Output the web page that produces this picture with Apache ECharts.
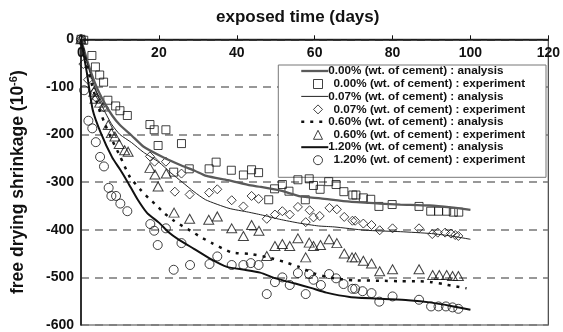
<!DOCTYPE html>
<html>
<head>
<meta charset="utf-8">
<script src="https://cdn.jsdelivr.net/npm/echarts@6/dist/echarts.min.js"></script>
<style>
html,body{margin:0;padding:0;background:#fff;}
#chart{width:563px;height:332px;}
</style>
</head>
<body>
<div id="chart"></div>
<script>
// ---- data (x = exposed time in days, y = free drying shrinkage, 10^-6) ----
var seriesNames = [
  '0.00% (wt. of cement) : analysis',
  '0.00% (wt. of cement) : experiment',
  '0.07% (wt. of cement) : analysis',
  '0.07% (wt. of cement) : experiment',
  '0.60% (wt. of cement) : analysis',
  '0.60% (wt. of cement) : experiment',
  '1.20% (wt. of cement) : analysis',
  '1.20% (wt. of cement) : experiment'
];
var xTicks = [0, 20, 40, 60, 80, 100, 120];
var yTicks = [0, -100, -200, -300, -400, -500, -600];

var ana000 = [[0,0],[2,-55],[4,-100],[6,-133],[8,-160],[10,-180],[13,-202],[16,-225],[20.7,-246],[25.8,-265],[29.2,-276],[32.2,-287],[37.7,-296],[43.6,-307],[46.2,-310],[51.3,-318],[56.4,-330],[61.5,-334],[69,-341],[76.7,-345],[82,-347],[89.5,-349],[95,-353],[100,-358]];
var exp000 = [[0,0],[0.7,-2],[2.8,-34],[3.7,-58],[4.8,-75],[5.8,-90],[6.9,-128],[8.9,-140],[10,-150],[11.9,-160],[17.7,-179],[18.8,-190],[19.8,-223],[21.8,-190],[23.8,-279],[25.8,-219],[27.8,-272],[32.9,-272],[34.7,-258],[38.6,-275],[41.7,-285],[43.8,-274],[45.6,-280],[48.2,-337],[49.7,-314],[51.7,-305],[53.4,-319],[55.7,-295],[57.6,-337],[58.6,-293],[59.7,-307],[61.4,-315],[63.6,-299],[65.5,-305],[67.5,-320],[69.8,-327],[70.6,-327],[72.5,-333],[74.4,-336],[76.5,-351],[79.9,-347],[86.8,-351],[89.8,-361],[91.8,-361],[93.9,-361],[95.6,-363],[97,-363]];

var ana007 = [[0,0],[2,-62],[4,-112],[6,-150],[8,-180],[10,-200],[13,-217],[16,-237],[20,-258],[23,-280],[26,-300],[29,-320],[32,-337],[38,-355],[43,-363],[47,-370],[51,-378],[56,-386],[61,-392],[65,-394],[73,-401],[82,-404],[90,-408],[95,-413],[100,-420]];
var exp007 = [[0,0],[0.6,-52],[1.8,-85],[3.4,-111],[4,-124],[5.8,-143],[17.7,-246],[18.9,-257],[21.8,-257],[24.1,-320],[25.8,-282],[27.9,-326],[32.9,-322],[35,-315],[38.7,-338],[41.7,-351],[43.8,-329],[45.6,-335],[47.7,-377],[49.8,-368],[51.7,-361],[53.6,-368],[55.7,-352],[57.7,-384],[58.7,-359],[59.7,-374],[61.3,-371],[63.8,-354],[65.7,-357],[67.6,-373],[69.7,-381],[70.4,-381],[72.5,-387],[74.6,-390],[76.7,-401],[80,-397],[86.8,-397],[90.2,-409],[91.6,-406],[93.5,-406],[95,-408],[96.1,-411],[96.9,-413]];

var ana060 = [[0,0],[2,-70],[4,-130],[6,-175],[8,-212],[10,-245],[12.6,-290],[15.2,-315],[17.3,-333],[19.4,-349],[21.5,-366],[23.7,-380],[26.2,-393],[28.3,-403],[30.9,-416],[33.4,-427],[38.5,-447],[43.6,-451],[48,-458],[52,-467],[56,-478],[60,-492],[65,-502],[70,-506],[77,-507],[82,-508],[87,-508],[90,-510],[93,-514],[95.5,-518],[99,-523]];
var exp060 = [[0,0],[3.3,-110],[3.6,-125],[4.8,-133],[5.8,-141],[7,-180],[7.8,-197],[8.7,-204],[9.8,-220],[11.2,-233],[12.1,-236],[17.7,-270],[19,-284],[19.8,-309],[21.9,-282],[23.9,-364],[27.9,-377],[32.8,-379],[35,-372],[38.7,-397],[41.7,-413],[43.8,-390],[45.7,-402],[47.7,-455],[49.8,-434],[51.7,-430],[53.6,-434],[55.7,-418],[57.7,-458],[58.6,-427],[59.7,-434],[61.5,-432],[63.7,-420],[65.7,-428],[67.6,-450],[69.6,-458],[70.5,-458],[72.5,-465],[74.6,-471],[76.7,-487],[80,-483],[86.8,-483],[90.3,-495],[92,-495],[93.9,-495],[95.4,-497],[96.9,-497]];

var ana120 = [[0,0],[1.5,-70],[3,-148],[5,-195],[8,-248],[10,-273],[12,-300],[14.5,-336],[17,-365],[20,-385],[22.5,-405],[25,-420],[29,-440],[33,-460],[37.5,-478],[42,-484],[46,-490],[50,-502],[55,-513],[59,-522],[63,-532],[69,-541],[77,-545],[84,-548],[90,-553],[95,-560],[100,-568]];
var exp120 = [[0,0],[0.8,-107],[1.9,-171],[2.9,-187],[3.8,-216],[4.9,-247],[5.9,-267],[7.1,-312],[7.8,-329],[9,-329],[10.1,-345],[11.9,-361],[17.8,-388],[18.8,-402],[19.7,-432],[21.8,-397],[23.8,-484],[25.8,-428],[28,-474],[33,-472],[35,-456],[38.7,-474],[41.7,-474],[43.6,-470],[45.6,-474],[47.7,-535],[49.8,-510],[51.7,-500],[53.6,-516],[55.7,-491],[57.7,-535],[58.6,-493],[59.7,-505],[61.6,-516],[63.7,-493],[65.5,-502],[67.4,-514],[69.7,-524],[70.4,-524],[72.3,-529],[74.6,-533],[76.6,-551],[80,-540],[86.8,-547],[89.9,-561],[91.8,-561],[93.7,-561],[95.4,-563],[96.9,-566]];

// ---- chart ----
var FONT = 'Liberation Sans';
var chart = echarts.init(document.getElementById('chart'), null, {renderer: 'canvas'});

var lineStyles = [
  {color: '#5a5a5a', width: 2.3, type: 'solid'},
  {color: '#222', width: 1, type: 'solid'},
  {color: '#111', width: 2.5, type: [3, 6]},
  {color: '#111', width: 2, type: 'solid'}
];

function lineSeries(name, data, ls) {
  return {name: name, type: 'line', data: data, symbol: 'none', smooth: 0.2,
          itemStyle: {color: ls.color}, lineStyle: ls, z: 3};
}
function scatterSeries(name, data, symbol, size) {
  return {name: name, type: 'scatter', data: data, symbol: symbol, symbolSize: size,
          itemStyle: {color: 'rgba(0,0,0,0)', borderColor: '#111', borderWidth: 1}, z: 2};
}
var legendText = {fontFamily: FONT, fontWeight: 'bold', fontSize: 11.7, color: '#111', lineHeight: 13};

var option = {
  animation: false,
  backgroundColor: '#fff',
  textStyle: {fontFamily: FONT},
  title: {
    text: 'exposed time (days)', left: 216, top: 9, padding: 0,
    textStyle: {fontFamily: FONT, fontWeight: 'bold', fontSize: 17, color: '#111'}
  },
  grid: {left: 78.8, right: 13.7, top: 39.3, bottom: 6, show: true, borderColor: '#444', borderWidth: 1.2, backgroundColor: 'transparent'},
  xAxis: {
    type: 'value', position: 'top', min: xTicks[0], max: xTicks[xTicks.length - 1], interval: 20,
    axisLine: {show: true, lineStyle: {color: '#111', width: 1.5}},
    axisTick: {show: true, inside: false, length: 4, lineStyle: {color: '#111', width: 1}},
    axisLabel: {inside: true, margin: 7, fontSize: 14, fontWeight: 'bold', color: '#111', fontFamily: FONT},
    splitLine: {show: false}
  },
  yAxis: {
    type: 'value', min: yTicks[yTicks.length - 1], max: yTicks[0], interval: 100,
    name: '{a|free drying shrinkage (10}{b|-6}{a|)}',
    nameLocation: 'middle', nameRotate: 90, nameGap: 53,
    nameTextStyle: {
      rich: {
        a: {fontFamily: FONT, fontWeight: 'bold', fontSize: 17.5, color: '#111', lineHeight: 20},
        b: {fontFamily: FONT, fontWeight: 'bold', fontSize: 11, color: '#111', verticalAlign: 'top', lineHeight: 12}
      }
    },
    axisLine: {show: true, lineStyle: {color: '#111', width: 1.5}},
    axisTick: {show: false},
    axisLabel: {margin: 7, fontSize: 14, fontWeight: 'bold', color: '#111', fontFamily: FONT},
    splitLine: {show: true, lineStyle: {color: '#777', width: 1.5, type: [8, 6]}}
  },
  legend: [
    {
      orient: 'vertical', left: 300, top: 64.5, padding: 0,
      itemWidth: 27, itemHeight: 12, itemGap: 12.4, selectedMode: false,
      data: [0, 2, 4, 6].map(function (k, i) {
        return {name: seriesNames[k], lineStyle: {width: lineStyles[i].width, color: lineStyles[i].color, type: lineStyles[i].type}};
      }),
      itemStyle: {opacity: 0},
      textStyle: Object.assign({}, legendText, {padding: [0, 0, 0, -5]})
    },
    {
      orient: 'vertical', left: 313, top: 77.5, padding: 0,
      itemWidth: 9, itemHeight: 9, itemGap: 12.4, selectedMode: false,
      data: [seriesNames[1], seriesNames[3], seriesNames[5], seriesNames[7]],
      itemStyle: {borderWidth: 1},
      textStyle: Object.assign({}, legendText, {padding: [0, 0, 0, 6]})
    }
  ],
  graphic: [{
    type: 'rect', z: 1, silent: true,
    shape: {x: 278.3, y: 65, width: 267.7, height: 112.3},
    style: {fill: '#fff', stroke: '#777', lineWidth: 1}
  }],
  series: [
    lineSeries(seriesNames[0], ana000, lineStyles[0]),
    scatterSeries(seriesNames[1], exp000, 'rect', [8, 8]),
    lineSeries(seriesNames[2], ana007, lineStyles[1]),
    scatterSeries(seriesNames[3], exp007, 'diamond', [9, 9]),
    lineSeries(seriesNames[4], ana060, lineStyles[2]),
    scatterSeries(seriesNames[5], exp060, 'triangle', [10, 9]),
    lineSeries(seriesNames[6], ana120, lineStyles[3]),
    scatterSeries(seriesNames[7], exp120, 'circle', [9, 9])
  ]
};
chart.setOption(option);
</script>
</body>
</html>
